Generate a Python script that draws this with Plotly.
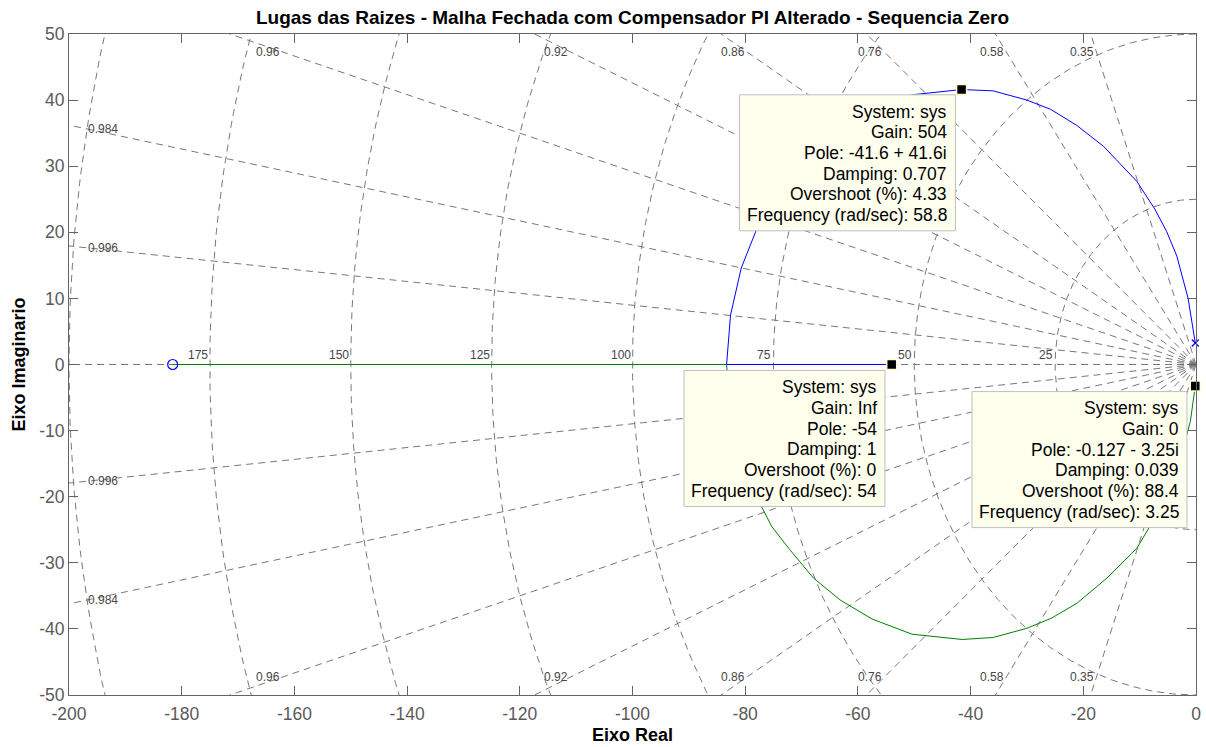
import numpy as np
import plotly.graph_objects as go

# ---- root locus data (s-plane) ----
# branch 1 (blue): open-loop pole -> upper arc -> break-in -> zero at -54
blue_re = [-0.127, -1.4, -3.4, -5.2, -7.3, -10.5, -16.4, -21.2, -25.8, -30.0, -36.0,
           -41.6, -50.4, -57.5, -63.2, -67.9, -72.1, -75.3, -78.0, -80.7, -82.6, -83.3, -54.0]
blue_im = [3.25, 10.0, 16.4, 20.1, 23.5, 27.7, 33.0, 36.2, 38.6, 40.0, 41.4,
           41.6, 40.8, 38.5, 35.6, 32.3, 28.0, 24.5, 20.4, 14.6, 7.5, 0.0, 0.0]
# branch 2 (green): open-loop pole -> lower arc -> break-in -> zero at -181.6
green_re = [-0.127, -1.0, -3.4, -5.2, -8.2, -10.5, -15.8, -21.1, -25.7, -30.0, -36.0,
            -41.5, -50.4, -57.5, -63.2, -67.9, -72.1, -75.3, -77.1, -80.7, -82.6, -83.3, -181.6]
green_im = [-3.25, -8.6, -16.4, -20.1, -24.5, -27.8, -32.3, -36.1, -38.4, -39.9, -41.3,
            -41.6, -40.8, -38.5, -35.6, -32.3, -28.0, -24.5, -21.5, -14.6, -7.5, 0.0, 0.0]

pole_re = [-0.127, -0.127]
pole_im = [3.25, -3.25]
zero_re = [-181.6, -54.0]
zero_im = [0.0, 0.0]

# data tips: marked points and their readouts
tip_re = [-41.6, -54.0, -0.127]
tip_im = [41.6, 0.0, -3.25]
tip_lines = [
    ["System: sys", "Gain: 504", "Pole: -41.6 + 41.6i", "Damping: 0.707",
     "Overshoot (%): 4.33", "Frequency (rad/sec): 58.8"],
    ["System: sys", "Gain: Inf", "Pole: -54", "Damping: 1",
     "Overshoot (%): 0", "Frequency (rad/sec): 54"],
    ["System: sys", "Gain: 0", "Pole: -0.127 - 3.25i", "Damping: 0.039",
     "Overshoot (%): 88.4", "Frequency (rad/sec): 3.25"],
]
# top-right corner of each readout box (data units) and box width (px)
tip_box_x = [-42.7, -55.2, -1.6]
tip_box_y = [40.8, -0.9, -4.1]
tip_box_w = [216, 201, 215]
TIP_H = 136
TIP_PAD_R = 6
TIP_LINE0 = 16.7
TIP_LINE_DY = 20.7

# s-plane grid
zeta_vals = [0.35, 0.58, 0.76, 0.86, 0.92, 0.96, 0.984, 0.996]
zeta_labels = ["0.35", "0.58", "0.76", "0.86", "0.92", "0.96", "0.984", "0.996"]
wn_vals = [25, 50, 75, 100, 125, 150, 175, 200]
wn_labels = ["25", "50", "75", "100", "125", "150", "175"]

x_ticks = [-200, -180, -160, -140, -120, -100, -80, -60, -40, -20, 0]
y_ticks = [-50, -40, -30, -20, -10, 0, 10, 20, 30, 40, 50]

XMIN, XMAX, YMIN, YMAX = -200, 0, -50, 50
FONT = "Arial, Liberation Sans, Helvetica, sans-serif"
GRID = "rgb(120,120,120)"
LBL = "rgb(70,70,70)"
DASH = "7px,5px"

fig = go.Figure()

# natural-frequency circles
th = np.linspace(np.pi / 2, 3 * np.pi / 2, 400)
for wn in wn_vals:
    fig.add_trace(go.Scatter(x=wn * np.cos(th), y=wn * np.sin(th), mode="lines",
                             line=dict(color=GRID, width=1, dash=DASH),
                             hoverinfo="skip", showlegend=False))
# constant-damping rays (plus the negative real axis)
for z in zeta_vals + [1.0]:
    ang = np.arccos(z)
    for sgn in ([1, -1] if z < 1 else [1]):
        fig.add_trace(go.Scatter(x=[0, -400 * np.cos(ang)], y=[0, sgn * 400 * np.sin(ang)],
                                 mode="lines", line=dict(color=GRID, width=1, dash=DASH),
                                 hoverinfo="skip", showlegend=False))

# locus branches
fig.add_trace(go.Scatter(x=green_re, y=green_im, mode="lines",
                         line=dict(color="rgb(0,128,0)", width=1), showlegend=False))
fig.add_trace(go.Scatter(x=blue_re, y=blue_im, mode="lines",
                         line=dict(color="rgb(0,0,255)", width=1), showlegend=False))
fig.add_trace(go.Scatter(x=zero_re, y=zero_im, mode="markers",
                         marker=dict(symbol="circle-open", size=10, color="rgb(0,0,255)",
                                     line=dict(width=1.2)), cliponaxis=False, showlegend=False))
fig.add_trace(go.Scatter(x=pole_re, y=pole_im, mode="markers",
                         marker=dict(symbol="x-thin-open", size=7, color="rgb(0,0,255)",
                                     line=dict(width=1.2, color="rgb(0,0,255)")),
                         cliponaxis=False, showlegend=False))

annotations = []
shapes = []
# damping labels
for z, lab in zip(zeta_vals, zeta_labels):
    t = np.tan(np.arccos(z))
    if 50 / t < 190:
        # along the top / bottom edges, ending on the ray
        for yy in (47.3, -47.3):
            annotations.append(dict(x=-abs(yy) / t, y=yy, text=lab, showarrow=False,
                                    xanchor="right", yanchor="middle",
                                    font=dict(family=FONT, size=12, color=LBL)))
    else:
        for sgn in (1, -1):
            annotations.append(dict(x=-197, y=sgn * 197 * t, text=lab, showarrow=False,
                                    xanchor="left", yanchor="middle",
                                    font=dict(family=FONT, size=12, color=LBL)))
# natural frequency labels
for wn, lab in zip(wn_vals, wn_labels):
    annotations.append(dict(x=-wn, y=0, text=lab, showarrow=False, xanchor="right",
                            yanchor="bottom", yshift=1,
                            font=dict(family=FONT, size=12, color=LBL)))

# readout boxes
for bx, by, bw, lines in zip(tip_box_x, tip_box_y, tip_box_w, tip_lines):
    shapes.append(dict(type="rect", xref="x", yref="y", xsizemode="pixel", ysizemode="pixel",
                       xanchor=bx, yanchor=by, x0=-bw, x1=0, y0=-TIP_H, y1=0,
                       fillcolor="rgb(255,255,238)", line=dict(color="rgb(190,190,190)", width=1),
                       layer="above"))
    for i, txt in enumerate(lines):
        annotations.append(dict(x=bx, y=by, xshift=-TIP_PAD_R, yshift=-(TIP_LINE0 + TIP_LINE_DY * i),
                                text=txt, showarrow=False, xanchor="right", yanchor="middle",
                                font=dict(family=FONT, size=17.5, color="black")))

# axis titles
annotations.append(dict(xref="paper", yref="paper", x=0.5, y=0, yshift=-40, text="<b>Eixo Real</b>",
                        showarrow=False, xanchor="center", yanchor="middle",
                        font=dict(family=FONT, size=18, color="black")))
annotations.append(dict(xref="paper", yref="paper", x=0, y=0.5, xshift=-51, text="<b>Eixo Imaginario</b>",
                        showarrow=False, xanchor="center", yanchor="middle", textangle=-90,
                        font=dict(family=FONT, size=18, color="black")))

# data tip markers
fig.add_trace(go.Scatter(x=tip_re, y=tip_im, mode="markers",
                         marker=dict(symbol="square", size=10, color="black",
                                     line=dict(width=1.5, color="rgb(255,255,210)")),
                         cliponaxis=False, showlegend=False))

axis_common = dict(showgrid=False, zeroline=False, showline=True, mirror="ticks", automargin=False,
                   linecolor="rgb(100,100,100)", linewidth=1, ticks="inside", ticklen=9,
                   tickcolor="rgb(100,100,100)",
                   tickfont=dict(family=FONT, size=17.5, color="rgb(90,90,90)"))

fig.update_layout(
    width=1206, height=747,
    margin=dict(l=69, r=10, t=34, b=52),
    paper_bgcolor="white", plot_bgcolor="white",
    showlegend=False,
    title=dict(text="<b>Lugas das Raizes - Malha Fechada com Compensador PI Alterado - Sequencia Zero</b>",
               x=0.5, xref="paper", xanchor="center", y=1 - 17 / 747, yanchor="middle",
               font=dict(family=FONT, size=19, color="black")),
    annotations=annotations,
    shapes=shapes,
    xaxis=dict(range=[XMIN, XMAX], tickvals=x_ticks, ticktext=[str(v) for v in x_ticks],
               ticklabelstandoff=3, **axis_common),
    yaxis=dict(range=[YMIN, YMAX], tickvals=y_ticks, ticktext=[str(v) for v in y_ticks],
               **axis_common),
)

fig.write_html("out.html")
